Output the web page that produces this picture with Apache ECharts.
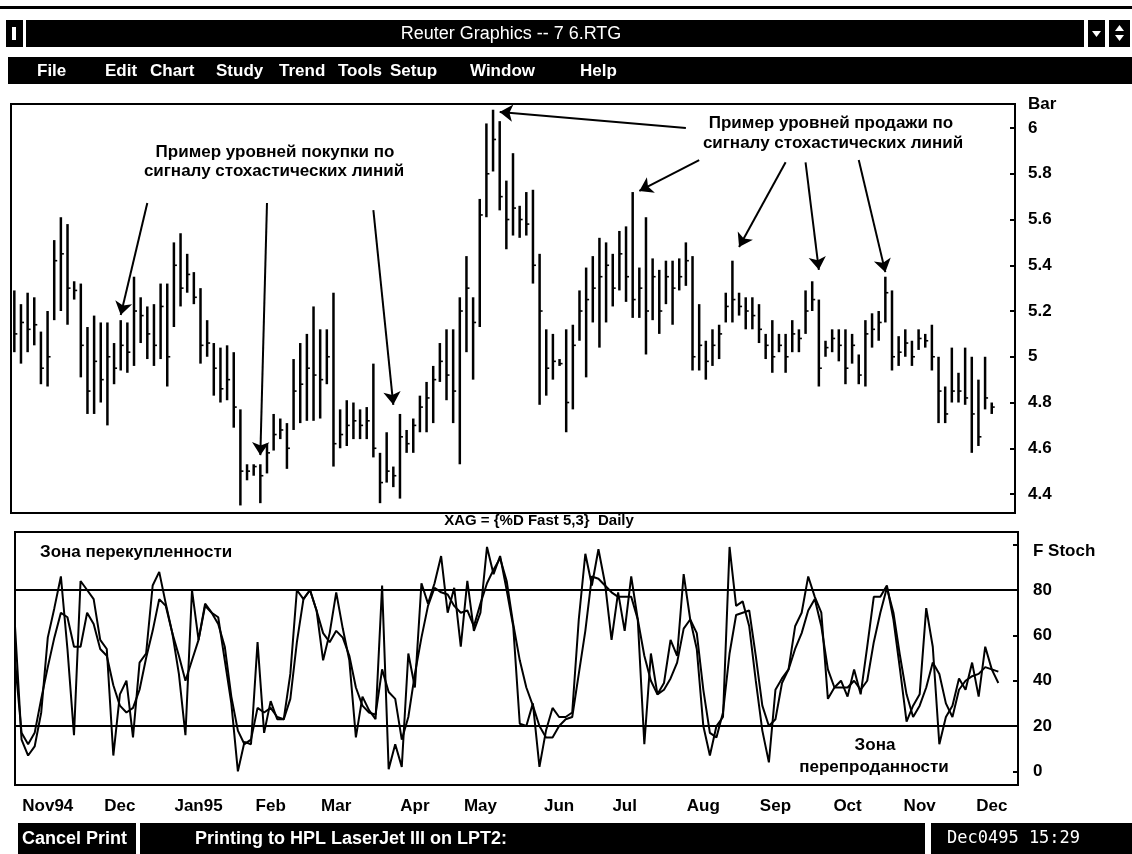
<!DOCTYPE html>
<html><head><meta charset="utf-8">
<script src="https://cdn.jsdelivr.net/npm/echarts@6/dist/echarts.min.js"></script>
<style>html,body{margin:0;padding:0;background:#fff;}#c{width:1132px;height:854px;}</style>
</head><body><div id="c"></div>
<script>
// ---- price bars (high / low / close) ----
const highs = [5.29,5.23,5.28,5.26,5.11,5.20,5.51,5.61,5.58,5.33,5.32,5.13,5.18,5.15,5.15,5.06,5.16,5.15,5.35,5.26,
5.22,5.23,5.32,5.32,5.50,5.54,5.45,5.37,5.30,5.16,5.06,5.04,5.05,5.02,4.77,4.53,4.53,4.53,4.62,4.75,
4.73,4.71,4.99,5.06,5.10,5.22,5.12,5.12,5.28,4.77,4.81,4.80,4.77,4.78,4.97,4.58,
4.67,4.52,4.75,4.68,4.73,4.83,4.89,4.96,5.06,5.12,5.12,5.26,5.44,5.26,5.69,6.02,6.08,6.03,5.77,5.89,
5.66,5.72,5.73,5.45,5.12,5.10,4.99,5.12,5.14,5.29,5.39,5.44,5.52,5.50,5.45,5.55,5.57,5.72,5.39,5.61,
5.43,5.38,5.42,5.42,5.43,5.50,5.44,5.23,5.07,5.12,5.14,5.28,5.42,5.28,5.26,5.26,
5.23,5.10,5.16,5.10,5.10,5.16,5.12,5.29,5.33,5.25,5.07,5.12,5.12,5.12,5.10,5.01,5.16,5.19,5.20,5.35,
5.29,5.09,5.12,5.07,5.12,5.10,5.14,5.00,4.87,5.04,4.93,5.04,5.00,4.90,5.00,4.80];
const lows = [5.02,4.97,5.02,5.05,4.88,4.87,5.16,5.20,5.14,5.25,4.91,4.75,4.75,4.80,4.70,4.88,4.94,4.93,4.96,5.06,
4.99,4.96,4.99,4.87,5.13,5.22,5.28,5.23,4.97,5.00,4.83,4.80,4.81,4.69,4.35,4.46,4.48,4.36,4.49,4.59,
4.64,4.51,4.68,4.71,4.72,4.72,4.73,4.88,4.52,4.60,4.61,4.64,4.64,4.64,4.56,4.36,
4.45,4.43,4.38,4.58,4.58,4.67,4.67,4.71,4.89,4.81,4.71,4.53,5.02,4.90,5.13,5.61,5.81,5.64,5.47,5.53,
5.52,5.53,5.32,4.79,4.83,4.90,4.96,4.67,4.77,5.07,4.91,5.15,5.04,5.15,5.22,5.29,5.24,5.17,5.17,5.01,
5.16,5.10,5.23,5.14,5.29,5.31,4.94,4.94,4.90,4.96,4.99,5.15,5.15,5.18,5.12,5.12,
5.06,4.99,4.93,5.02,4.93,5.02,5.02,5.10,5.20,4.87,5.00,5.02,4.98,4.88,4.97,4.88,4.87,5.04,5.07,5.15,
4.94,4.96,5.00,4.96,5.03,5.04,4.94,4.71,4.71,4.80,4.80,4.79,4.58,4.61,4.77,4.75];
const closes = [5.10,5.15,5.12,5.14,4.95,5.00,5.42,5.45,5.30,5.29,5.05,4.85,4.98,4.90,5.00,4.95,5.05,5.02,5.20,5.18,
5.10,5.05,5.22,5.00,5.40,5.30,5.36,5.26,5.05,5.06,4.95,4.86,4.90,4.78,4.50,4.50,4.52,4.48,4.58,4.66,
4.68,4.60,4.85,4.88,4.95,4.92,4.90,5.00,4.62,4.66,4.70,4.72,4.70,4.72,4.60,4.45,
4.50,4.48,4.65,4.62,4.70,4.78,4.82,4.90,4.98,4.92,4.85,5.20,5.30,5.15,5.62,5.80,5.95,5.70,5.60,5.65,
5.60,5.58,5.40,5.20,4.95,4.98,4.97,4.80,5.05,5.20,5.25,5.30,5.35,5.40,5.30,5.45,5.35,5.25,5.30,5.20,
5.35,5.20,5.35,5.30,5.35,5.42,5.00,5.05,4.98,5.05,5.10,5.22,5.25,5.22,5.20,5.18,
5.12,5.05,5.00,5.05,5.00,5.10,5.08,5.20,5.25,4.95,5.04,5.08,5.05,4.95,5.05,4.92,5.10,5.12,5.15,5.28,
5.00,5.02,5.06,5.00,5.08,5.07,5.00,4.85,4.75,4.85,4.85,4.82,4.75,4.65,4.82,4.78];

// ---- fast stochastics (%K and %D) ----
const stochK = [64,14,7,11,26,59,72,86,54,16, 84,80,76,58,54,7,34,40,15,48,
52,82,88,74,61,43,16,80,58,74, 70,68,49,30,0,13,12,57,17,31,
23,23,43,80,76,80,71,49,61,79, 63,49,15,33,27,23,82,1,12,2,
52,37,83,74,83,95,70,81,55,84, 62,70,99,87,95,80,64,21,20,30,
2,18,28,24,24,26,67,96,82,98, 83,58,79,62,86,67,12,52,34,39,
58,51,87,67,54,20,7,20,24,99, 73,75,64,40,18,4,36,41,45,64,
70,86,77,70,32,37,40,33,45,34, 55,77,77,82,67,45,22,29,34,72,
55,12,24,29,41,36,48,33,55,45, 39];
const stochD = [49,17,12,17,32,46,59,70,68,55, 55,70,65,54,51,38,29,26,28,36,
50,62,76,73,61,51,40,49,58,73, 70,65,55,33,18,12,14,28,26,28,
24,23,32,57,76,80,71,61,57,62, 59,51,37,29,26,25,45,35,32,14,
24,43,59,73,81,79,78,73,70,71, 64,74,83,89,94,84,65,49,37,29,
20,15,15,20,23,24,43,62,86,85, 82,79,77,77,77,67,51,40,34,36,
41,48,63,67,61,36,17,15,26,52, 69,70,71,51,29,20,23,39,45,54,
61,71,76,64,45,37,37,37,40,36, 40,57,70,81,70,51,34,24,29,37,
48,43,30,24,36,40,42,43,46,45, 44];
const stochLevels = [80, 20];

// ---- axis labels ----
const monthNames = ['Nov94','Dec','Jan95','Feb','Mar','Apr','May','Jun','Jul','Aug','Sep','Oct','Nov','Dec'];
const monthIdx = [5,16,28,39,49,61,71,83,93,105,116,127,138,149];
const daySlots = 154;
const menuItems = ['File','Edit','Chart','Study','Trend','Tools','Setup','Window','Help'];
const menuX = [37,105,150,216,279,338,390,470,580];

// ---- annotation arrows (bar index, price) ----
const buyArrows = [[[20,5.672],[16,5.183]],[[38,5.672],[37,4.57]],[[54,5.641],[57,4.79]]];
const sellArrows = [[[101,6.0],[73,6.07]],[[103,5.86],[94,5.725]],[[116,5.85],[109,5.48]],[[119,5.85],[121,5.38]],[[127,5.86],[131,5.37]]];

const FONT = '"Liberation Sans", Arial, sans-serif';
const chart = echarts.init(document.getElementById('c'), null, {renderer:'canvas'});

const barData = highs.map((h,i)=>[i,h,lows[i],closes[i]]);
const dayCats = Array.from({length:daySlots},(_,i)=>'d'+i);
const labelAt = {};
monthIdx.forEach((d,k)=>{labelAt[d]=monthNames[k];});

function txt(x,y,text,opt){
  opt = opt||{};
  const fam = opt.family || FONT;
  return {type:'text', x:x, y:y, z:100, silent:true, style:{text:text, fill:opt.fill||'#000',
    font:(opt.weight||'bold')+' '+(opt.size||17)+'px '+fam, align:opt.align||'left', verticalAlign:'middle',
    textAlign:opt.align||'left', textVerticalAlign:'middle'}};
}
function rect(x,y,w,h,fill){return {type:'rect', z:90, silent:true, shape:{x:x,y:y,width:w,height:h}, style:{fill:fill||'#000'}};}

const graphics = [
  rect(0,6,1132,3),
  rect(6,20,17,27), rect(12,27,4,13,'#fff'),
  rect(26,20,1058,27),
  txt(511,34,'Reuter Graphics -- 7 6.RTG',{fill:'#fff',size:18,weight:'normal',align:'center'}),
  rect(1088,20,17,27), {type:'polygon',z:95,silent:true,shape:{points:[[1092,31],[1101,31],[1096.5,37]]},style:{fill:'#fff'}},
  rect(1109,20,21,27), {type:'polygon',z:95,silent:true,shape:{points:[[1115,31],[1124,31],[1119.5,25]]},style:{fill:'#fff'}},
  {type:'polygon',z:95,silent:true,shape:{points:[[1115,35],[1124,35],[1119.5,41]]},style:{fill:'#fff'}},
  rect(8,57,1124,27),
  rect(18,823,118,31), rect(140,823,785,31), rect(931,823,201,31),
  txt(22,839,'Cancel Print',{fill:'#fff',size:18}),
  txt(195,839,'Printing to HPL LaserJet III on LPT2:',{fill:'#fff',size:18}),
  txt(947,839,'Dec0495 15:29',{fill:'#fff',weight:'normal',size:17,family:'"DejaVu Sans Mono", monospace'}),
  txt(539,521,'XAG = {%D Fast 5,3}  Daily',{size:15,align:'center'}),
  txt(275,152,'Пример уровней покупки по',{align:'center'}),
  txt(274,171,'сигналу стохастических линий',{align:'center'}),
  txt(831,123,'Пример уровней продажи по',{align:'center'}),
  txt(833,143,'сигналу стохастических линий',{align:'center'}),
  txt(40,552,'Зона перекупленности'),
  txt(875,745,'Зона',{align:'center'}),
  txt(874,767,'перепроданности',{align:'center'})
];
menuItems.forEach((m,k)=>graphics.push(txt(menuX[k],71,m,{fill:'#fff'})));

const arrowLines = buyArrows.concat(sellArrows).map(a=>[{coord:a[0]},{coord:a[1]}]);

const labelStyle = {color:'#000', fontWeight:'bold', fontSize:17, fontFamily:FONT};

const option = {
  animation:false,
  backgroundColor:'#fff',
  graphic: graphics,
  grid:[
    {left:11, top:104, width:1004, height:409, show:true, borderColor:'#000', borderWidth:2, backgroundColor:'transparent'},
    {left:15, top:532, width:1003, height:253, show:true, borderColor:'#000', borderWidth:2, backgroundColor:'transparent'}
  ],
  xAxis:[
    {type:'value', gridIndex:0, min:-0.5, max:150.5, show:false},
    {type:'category', gridIndex:1, data:dayCats, boundaryGap:false,
      axisLine:{show:false}, axisTick:{show:false}, splitLine:{show:false},
      axisLabel:Object.assign({margin:13, interval:(i)=>labelAt[i]!==undefined, formatter:(v,i)=>labelAt[i]||''}, labelStyle)}
  ],
  yAxis:[
    {type:'value', gridIndex:0, position:'right', min:4.317, max:6.105, minInterval:0.2, maxInterval:0.2, splitNumber:9,
      axisLine:{show:false, onZero:false}, splitLine:{show:false},
      axisTick:{show:true, inside:true, length:5, lineStyle:{color:'#000', width:2}},
      axisLabel:Object.assign({margin:13, showMinLabel:false, showMaxLabel:true,
        formatter:(v)=> v>6.05 ? 'Bar' : (v<4.39 ? '' : String(Math.round(v*10)/10))}, labelStyle)},
    {type:'value', gridIndex:1, position:'right', min:-6, max:105.6, minInterval:20, maxInterval:20, splitNumber:5,
      axisLine:{show:false, onZero:false}, splitLine:{show:false},
      axisTick:{show:true, inside:true, length:5, lineStyle:{color:'#000', width:2}},
      axisLabel:Object.assign({margin:15, showMinLabel:false, showMaxLabel:false,
        formatter:(v)=> Math.abs(v-100)<0.01 ? '{s|F Stoch}' : ((v<-0.5||v>100.5) ? '' : String(Math.round(v))),
        rich:{s:{color:'#000', fontWeight:'bold', fontSize:17, fontFamily:FONT, padding:[14,0,0,0]}}}, labelStyle)}
  ],
  series:[
    {type:'custom', name:'XAG', xAxisIndex:0, yAxisIndex:0, data:barData, encode:{x:0, y:[1,2,3]}, clip:true,
      renderItem:function(params, api){
        const x = api.value(0);
        const hi = api.coord([x, api.value(1)]);
        const lo = api.coord([x, api.value(2)]);
        const cl = api.coord([x, api.value(3)]);
        return {type:'group', children:[
          {type:'line', shape:{x1:hi[0], y1:hi[1], x2:lo[0], y2:lo[1]}, style:{stroke:'#000', lineWidth:2.5}},
          {type:'line', shape:{x1:cl[0], y1:cl[1], x2:cl[0]+3, y2:cl[1]}, style:{stroke:'#000', lineWidth:1.6}}
        ]};
      }},
    {type:'line', name:'arrows', xAxisIndex:0, yAxisIndex:0, data:[], silent:true,
      markLine:{silent:true, symbol:['none','arrow'], symbolSize:13, animation:false,
        label:{show:false}, lineStyle:{color:'#000', width:2, type:'solid'}, emphasis:{disabled:true},
        data:arrowLines}},
    {type:'line', name:'%K', xAxisIndex:1, yAxisIndex:1, data:stochK, symbol:'none', silent:true,
      lineStyle:{color:'#000', width:2},
      markLine:{silent:true, symbol:'none', animation:false, label:{show:false},
        lineStyle:{color:'#000', width:2, type:'solid'}, emphasis:{disabled:true},
        data:stochLevels.map(v=>({yAxis:v}))}},
    {type:'line', name:'%D', xAxisIndex:1, yAxisIndex:1, data:stochD, symbol:'none', silent:true,
      lineStyle:{color:'#000', width:2}}
  ]
};
chart.setOption(option);
</script></body></html>
